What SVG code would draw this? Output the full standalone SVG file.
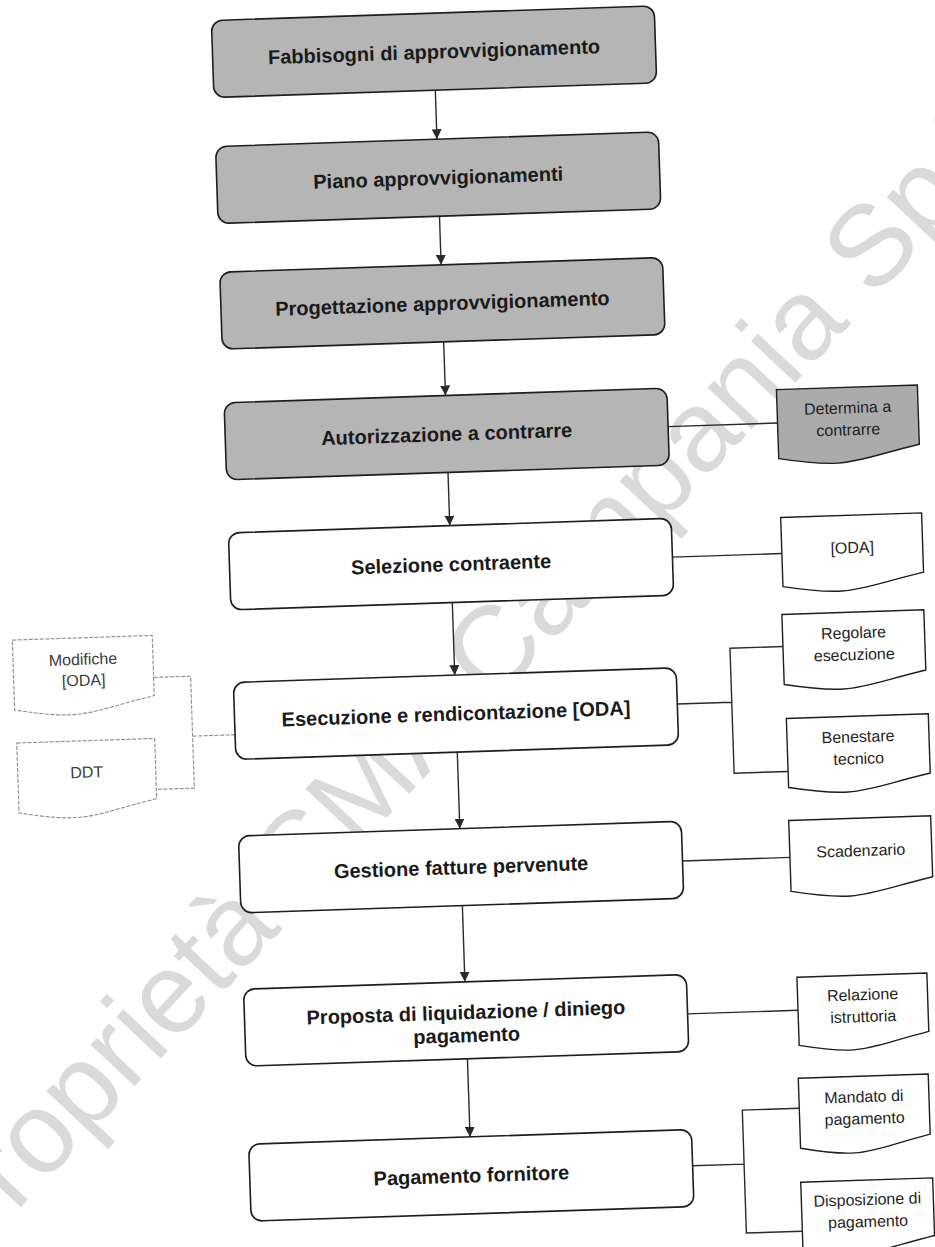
<svg xmlns="http://www.w3.org/2000/svg" width="935" height="1247" viewBox="0 0 935 1247">
<style>
.box{fill:#ffffff;stroke:#1e1e1e;stroke-width:1.6}
.gray{fill:#b5b5b5}
.doc{fill:#ffffff;stroke:#1e1e1e;stroke-width:1.4}
.docg{fill:#ababab;stroke:#1e1e1e;stroke-width:1.4}
.docl{fill:#ffffff;stroke:#8c8c8c;stroke-width:1.1;stroke-dasharray:4 1.5}
.lbl{font-family:"Liberation Sans",Arial,sans-serif;font-weight:bold;font-size:20px;fill:#1a1a1a;text-anchor:middle}
.dt{font-family:"Liberation Sans",Arial,sans-serif;font-size:16px;fill:#1e1e1e;text-anchor:middle}
.dtl{font-family:"Liberation Sans",Arial,sans-serif;font-size:16px;fill:#3a3a3a;text-anchor:middle}
.ln{fill:none;stroke:#2a2a2a;stroke-width:1.4}
.lnl{fill:none;stroke:#8c8c8c;stroke-width:1.1;stroke-dasharray:4 1.5}
.wm{font-family:"Liberation Sans",Arial,sans-serif;font-size:115px;fill:#dadada}
</style>
<defs>
<marker id="ah" markerUnits="userSpaceOnUse" markerWidth="11" markerHeight="10" refX="10" refY="5" orient="auto">
<path d="M0,0 L10,5 L0,10 Z" fill="#2a2a2a"/>
</marker>
</defs>
<rect width="935" height="1247" fill="#ffffff"/>
<g id="watermark">
<text class="wm" transform="translate(-37,1269) rotate(-46.8)">Proprietà SMA Campania SpA</text>
</g>
<g transform="rotate(-1.9 467 623)">
<g id="connectors">
<line class="ln" x1="453" y1="89.4" x2="453" y2="138.5" marker-end="url(#ah)"/>
<line class="ln" x1="453" y1="215.5" x2="453" y2="264.2" marker-end="url(#ah)"/>
<line class="ln" x1="453" y1="341.2" x2="453" y2="394.9" marker-end="url(#ah)"/>
<line class="ln" x1="453" y1="471.9" x2="453" y2="525.1" marker-end="url(#ah)"/>
<line class="ln" x1="453" y1="602.1" x2="453" y2="674.7" marker-end="url(#ah)"/>
<line class="ln" x1="453" y1="751.7" x2="453" y2="828.3" marker-end="url(#ah)"/>
<line class="ln" x1="453" y1="905.3" x2="453" y2="981.6" marker-end="url(#ah)"/>
<line class="ln" x1="453" y1="1058.6" x2="453" y2="1136.7" marker-end="url(#ah)"/>
<line class="ln" x1="674.5" y1="433.4" x2="784" y2="433.4"/>
<line class="ln" x1="674.5" y1="564" x2="784" y2="564"/>
<path class="ln" d="M674.5,711 H729 M782,657 H729 V782 H783"/>
<line class="ln" x1="674.5" y1="868" x2="782" y2="868"/>
<line class="ln" x1="674.5" y1="1021" x2="785" y2="1021"/>
<path class="ln" d="M674.5,1173 H726 M783,1119 H726 V1242 H782"/>
<path class="lnl" d="M152,667 H189 V779 H151 M189,727 H231.5"/>
</g>
<g id="n1"><rect class="box gray" x="231.5" y="12.4" width="443" height="77" rx="11"/><text class="lbl" x="453" y="57.9">Fabbisogni di approvvigionamento</text></g>
<g id="n2"><rect class="box gray" x="231.5" y="138.5" width="443" height="77" rx="11"/><text class="lbl" x="453" y="184">Piano approvvigionamenti</text></g>
<g id="n3"><rect class="box gray" x="231.5" y="264.2" width="443" height="77" rx="11"/><text class="lbl" x="453" y="309.7">Progettazione approvvigionamento</text></g>
<g id="n4"><rect class="box gray" x="231.5" y="394.9" width="443" height="77" rx="11"/><text class="lbl" x="453" y="440.4">Autorizzazione a contrarre</text></g>
<g id="n5"><rect class="box" x="231.5" y="525.1" width="443" height="77" rx="11"/><text class="lbl" x="453" y="570.6">Selezione contraente</text></g>
<g id="n6"><rect class="box" x="231.5" y="674.7" width="443" height="77" rx="11"/><text class="lbl" x="453" y="720.2">Esecuzione e rendicontazione [ODA]</text></g>
<g id="n7"><rect class="box" x="231.5" y="828.3" width="443" height="77" rx="11"/><text class="lbl" x="453" y="873.8">Gestione fatture pervenute</text></g>
<g id="n8"><rect class="box" x="231.5" y="981.6" width="443" height="77" rx="11"/><text class="lbl" x="453" y="1019">Proposta di liquidazione / diniego</text><text class="lbl" x="453" y="1042">pagamento</text></g>
<g id="n9"><rect class="box" x="231.5" y="1136.7" width="443" height="77" rx="11"/><text class="lbl" x="453" y="1182.2">Pagamento fornitore</text></g>
<g id="d1"><path class="docg" d="M784,400 H925 V459.3 C854.5,474 854.5,482 784,469.1 Z"/><text class="dt" x="854.5" y="426">Determina a</text><text class="dt" x="854.5" y="448">contrarre</text></g>
<g id="d2"><path class="doc" d="M784,528 H925 V587.3 C854.5,602 854.5,610 784,597.1 Z"/><text class="dt" x="854.5" y="566">[ODA]</text></g>
<g id="d3"><path class="doc" d="M782,625 H924 V685.2 C853,700 853,708.1 782,695 Z"/><text class="dt" x="853" y="651">Regolare</text><text class="dt" x="853" y="673">esecuzione</text></g>
<g id="d4"><path class="doc" d="M783,729 H925 V788.3 C854,803 854,811 783,798.1 Z"/><text class="dt" x="854" y="755">Benestare</text><text class="dt" x="854" y="777">tecnico</text></g>
<g id="d5"><path class="doc" d="M782,831 H924 V892 C853,907 853,915.2 782,902 Z"/><text class="dt" x="853" y="869">Scadenzario</text></g>
<g id="d6"><path class="doc" d="M785,988 H915 V1046.5 C850,1061 850,1068.8 785,1056.2 Z"/><text class="dt" x="850" y="1013">Relazione</text><text class="dt" x="850" y="1035">istruttoria</text></g>
<g id="d7"><path class="doc" d="M783,1089 H913 V1149.2 C848,1164 848,1172.1 783,1159 Z"/><text class="dt" x="848" y="1115">Mandato di</text><text class="dt" x="848" y="1137">pagamento</text></g>
<g id="d8"><path class="doc" d="M782,1193 H914 V1250.7 C848,1265 848,1272.7 782,1260.2 Z"/><text class="dt" x="848" y="1218">Disposizione di</text><text class="dt" x="848" y="1240">pagamento</text></g>
<g id="d9"><path class="docl" d="M12,625 H152 V685.2 C82,700 82,708.1 12,695 Z"/><text class="dtl" x="82" y="652">Modifiche</text><text class="dtl" x="82" y="673">[ODA]</text></g>
<g id="d10"><path class="docl" d="M13,728 H151 V788.2 C82,803 82,811.1 13,798 Z"/><text class="dtl" x="82" y="765">DDT</text></g>
</g>
</svg>
